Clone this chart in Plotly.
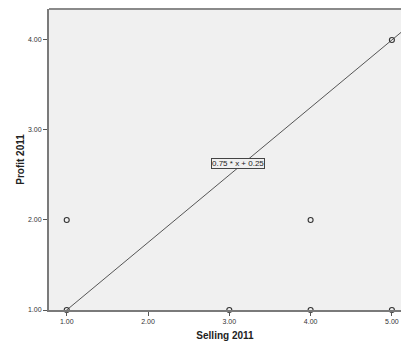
import plotly.graph_objects as go

selling = [1, 1, 3, 4, 4, 5, 5]
profit = [1, 2, 1, 1, 2, 1, 4]
slope = 0.75
intercept = 0.25
fit_label = "0.75 * x + 0.25"
x_ticks = [1, 2, 3, 4, 5]
y_ticks = [1, 2, 3, 4]

x_range = [0.782, 5.112]
y_range = [1.0, 4.344]

line_x = [x_range[0], x_range[1]]
line_y = [slope * v + intercept for v in line_x]

fig = go.Figure()
fig.add_trace(go.Scatter(x=line_x, y=line_y, mode="lines",
                         line=dict(color="#555555", width=1), hoverinfo="skip"))
fig.add_trace(go.Scatter(x=selling, y=profit, mode="markers", cliponaxis=False,
                         marker=dict(symbol="circle-open", size=5, color="#333333",
                                     line=dict(width=1.1))))
fig.add_annotation(x=3.107, y=2.63, text=fit_label, showarrow=False,
                   font=dict(family="Arial, Liberation Sans", size=8, color="#222222"),
                   bgcolor="#f0f0f0", bordercolor="#444444", borderwidth=1, borderpad=0)

axis_common = dict(showgrid=False, zeroline=False, showline=True, linecolor="#7a7a7a",
                   linewidth=2, ticks="outside", ticklen=4, tickcolor="#555555",
                   tickfont=dict(family="Arial, Liberation Sans", size=7, color="#333333"),
                   mirror=False)

fig.update_layout(
    width=401, height=345,
    margin=dict(l=49, r=0, t=9, b=35),
    paper_bgcolor="white", plot_bgcolor="#f0f0f0",
    showlegend=False,
    xaxis=dict(range=x_range, tickvals=x_ticks,
               ticktext=[f"{v:.2f}" for v in x_ticks],
               title=dict(text="<b>Selling 2011</b>", standoff=8,
                          font=dict(family="Arial, Liberation Sans", size=10, color="#222222")),
               **axis_common),
    yaxis=dict(range=y_range, tickvals=y_ticks,
               ticktext=[f"{v:.2f}" for v in y_ticks],
               title=dict(text="<b>Profit 2011</b>", standoff=1,
                          font=dict(family="Arial, Liberation Sans", size=10, color="#222222")),
               **axis_common),
)
fig.add_shape(type="line", xref="paper", yref="paper", x0=0, x1=1, y0=1, y1=1,
              line=dict(color="#8a8a8a", width=2))
fig.write_html("out.html")
